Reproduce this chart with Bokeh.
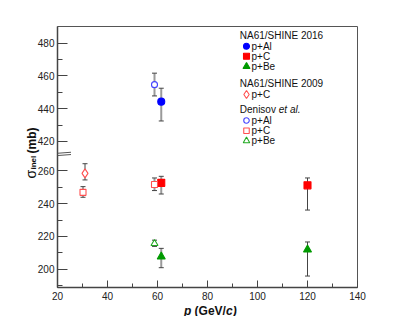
import numpy as np
from bokeh.plotting import figure
from bokeh.models import (ColumnDataSource, Whisker, TeeHead, FixedTicker,
                          Range1d, Label, Arrow)
from bokeh.embed import file_html
from bokeh.resources import INLINE

# ---------------- data ----------------
# NA61/SHINE 2016
P_2016_AL = [61.5]
S_2016_AL = [444.3]
LO_2016_AL = [432.5]
HI_2016_AL = [452.5]

P_2016_C = [61.5, 120.0]
S_2016_C = [252.7, 251.2]
LO_2016_C = [245.9, 236.1]
HI_2016_C = [256.7, 255.7]

P_2016_BE = [61.5, 120.0]
S_2016_BE = [207.6, 211.9]
LO_2016_BE = [200.9, 195.8]
HI_2016_BE = [212.7, 216.6]

# NA61/SHINE 2009
P_2009_C = [31.0]
S_2009_C = [258.5]
LO_2009_C = [254.5]
HI_2009_C = [264.4]

# Denisov et al.
P_DEN_AL = [58.8]
S_DEN_AL = [454.7]
LO_DEN_AL = [447.8]
HI_DEN_AL = [461.7]

P_DEN_C = [30.2, 58.8]
S_DEN_C = [246.9, 251.7]
LO_DEN_C = [243.9, 248.0]
HI_DEN_C = [250.4, 255.7]

P_DEN_BE = [58.8]
S_DEN_BE = [215.7]
LO_DEN_BE = [213.9]
HI_DEN_BE = [217.7]

X_TICKS = [20, 40, 60, 80, 100, 120, 140]
X_MINOR = [30, 50, 70, 90, 110, 130]
Y_TICKS = [200, 220, 240, 260, 420, 440, 460, 480]
Y_MINOR = [190, 210, 230, 250, 430, 450, 470]
X_RANGE = (20, 140)
Y_RANGE = (188.8, 490.2)

# broken y axis: values above BREAK_HIGH are shifted down onto BREAK_LOW
BREAK_LOW, BREAK_HIGH = 270, 412


def to_plot(v):
    v = np.asarray(v, dtype=float)
    return np.where(v > BREAK_LOW, v - (BREAK_HIGH - BREAK_LOW), v)


# ---------------- layout ----------------
W, H = 407, 316
BL, BR, BT, BB = 57, 50, 26, 29
FW = W - BL - BR
FH = H - BT - BB
FL_PAGE = BL          # frame left in picture px
FB_PAGE = BT + FH     # frame bottom in picture px


def lx(px):
    return px - FL_PAGE


def ly(py):
    return FB_PAGE - py


FONT = "Liberation Sans"

p = figure(width=W, height=H, output_backend="svg", toolbar_location=None,
           x_range=X_RANGE, y_range=(float(to_plot(Y_RANGE[0])), float(to_plot(Y_RANGE[1]))),
           min_border_left=BL, min_border_right=BR, min_border_top=BT,
           min_border_bottom=BB, title=None, background_fill_color="white",
           border_fill_color="white")
p.extra_x_ranges = {"lx": Range1d(0, FW)}
p.extra_y_ranges = {"ly": Range1d(0, FH)}

p.xgrid.visible = False
p.ygrid.visible = False
p.outline_line_color = "#555555"
p.outline_line_width = 1

for ax in (p.xaxis, p.yaxis):
    ax.axis_line_color = "#444444"
    ax.axis_line_width = 1.5
    ax.major_tick_line_color = "#444444"
    ax.minor_tick_line_color = "#444444"
    ax.major_tick_out = 0
    ax.minor_tick_out = 0
    ax.major_label_text_font = FONT
    ax.major_label_text_font_size = "10px"
    ax.major_label_text_color = "#222222"

p.xaxis.ticker = FixedTicker(ticks=X_TICKS, minor_ticks=X_MINOR)
p.xaxis.major_tick_in = 7
p.xaxis.minor_tick_in = 4
p.xaxis.major_label_standoff = 4

y_tick_pos = [float(v) for v in to_plot(Y_TICKS)]
y_minor_pos = [float(v) for v in to_plot(Y_MINOR)]
p.yaxis.ticker = FixedTicker(ticks=y_tick_pos, minor_ticks=y_minor_pos)
p.yaxis.major_label_overrides = {pos: str(v) for pos, v in zip(y_tick_pos, Y_TICKS)}
p.yaxis.major_tick_in = 10
p.yaxis.minor_tick_in = 5
p.yaxis.major_label_standoff = 3

# ---------------- series ----------------
BLUE, RED, GREEN = "#0000ff", "#ff0000", "#009a00"
OBLUE, ORED, OGREEN = "#4444ff", "#ff5050", "#22aa22"

series = [
    (P_2016_AL, S_2016_AL, LO_2016_AL, HI_2016_AL, "circle", 7, BLUE, BLUE),
    (P_2016_C, S_2016_C, LO_2016_C, HI_2016_C, "square", 7, RED, RED),
    (P_2016_BE, S_2016_BE, LO_2016_BE, HI_2016_BE, "triangle", 8, GREEN, GREEN),
    (P_2009_C, S_2009_C, LO_2009_C, HI_2009_C, "diamond", 9, ORED, "white"),
    (P_DEN_AL, S_DEN_AL, LO_DEN_AL, HI_DEN_AL, "circle", 6, OBLUE, "white"),
    (P_DEN_C, S_DEN_C, LO_DEN_C, HI_DEN_C, "square", 6, ORED, "white"),
    (P_DEN_BE, S_DEN_BE, LO_DEN_BE, HI_DEN_BE, "triangle", 7, OGREEN, "white"),
]

# error bars: those of the crowded 60 GeV/c group are drawn lighter and wider
light = dict(x=[], lo=[], hi=[])
dark = dict(x=[], lo=[], hi=[])
for px_, s_, lo_, hi_, *_ in series:
    for xv, lov, hiv in zip(px_, lo_, hi_):
        tgt = light if 50 < xv < 70 else dark
        tgt["x"].append(xv)
        tgt["lo"].append(float(to_plot(lov)))
        tgt["hi"].append(float(to_plot(hiv)))

for d, col, lw in ((light, "#9a9a9a", 2), (dark, "#444444", 1)):
    src = ColumnDataSource(d)
    p.add_layout(Whisker(source=src, base="x", lower="lo", upper="hi",
                         dimension="height", line_color=col, line_width=lw,
                         upper_head=TeeHead(size=5, line_color="#444444", line_width=1),
                         lower_head=TeeHead(size=5, line_color="#444444", line_width=1)))

for px_, s_, lo_, hi_, marker, size, lcol, fcol in series:
    src = ColumnDataSource(dict(x=px_, y=to_plot(s_)))
    p.scatter("x", "y", source=src, marker=marker, size=size,
              line_color=lcol, fill_color=fcol, line_width=1.1)

# ---------------- axis break mark ----------------
for y0 in (268.9, 270.3):
    p.add_layout(Arrow(start=None, end=None, x_start=-10.5, x_end=13.5,
                       y_start=y0, y_end=y0 + 1.1, x_range_name="lx",
                       line_color="#555555", line_width=1))


def pix_label(txt, px, py, place="center", **kw):
    """Text placed at picture-pixel position through the 'lx'/'ly' ranges.
    Texts outside the frame are put in a side panel so they are not clipped."""
    base = dict(text_font=FONT, text_color="#111111", text_align="left",
                text_baseline="middle")
    base.update(kw)
    lab = Label(x=lx(px), y=ly(py), x_range_name="lx", y_range_name="ly",
                text=txt, **base)
    p.add_layout(lab, place)


# ---------------- legend (picture-pixel layout) ----------------
TITLE_X, MARK_X, TEXT_X = 239.3, 246.0, 251.0
legend_titles = [("NA61/SHINE 2016", 35.0), ("NA61/SHINE 2009", 83.3)]
legend_rows = [
    ("p+Al", 45.7, "circle", 6, BLUE, BLUE),
    ("p+C", 55.7, "square", 6, RED, RED),
    ("p+Be", 66.0, "triangle", 7, GREEN, GREEN),
    ("p+C", 94.0, "diamond", 8, ORED, "white"),
    ("p+Al", 120.0, "circle", 5.5, OBLUE, "white"),
    ("p+C", 130.2, "square", 5.5, ORED, "white"),
    ("p+Be", 140.3, "triangle", 6.5, OGREEN, "white"),
]
LEG_FS = "10px"

for txt, py in legend_titles:
    pix_label(txt, TITLE_X, py, text_font_size=LEG_FS)
pix_label("Denisov", TITLE_X, 109.3, text_font_size=LEG_FS)
pix_label("et al.", TITLE_X + 39.0, 109.3, text_font_size=LEG_FS,
          text_font_style="italic")

for txt, py, marker, size, lcol, fcol in legend_rows:
    p.scatter(x=[lx(MARK_X)], y=[ly(py)], x_range_name="lx", y_range_name="ly",
              marker=marker, size=size, line_color=lcol, fill_color=fcol, line_width=1.1)
    pix_label(txt, TEXT_X, py, text_font_size=LEG_FS)

# ---------------- axis titles (outside the frame, held by side panels) ----------------
XT_Y = 310.5
xt_parts = [("p", 183.5, "bold italic", "right"),
            ("(GeV/", 194.1, "bold", "above"),
            ("c)", 225.6, "bold italic", "right")]
for txt, px, style, place in xt_parts:
    pix_label(txt, px, XT_Y, place=place, text_font_size="12px",
              text_font_style=style, text_baseline="alphabetic")

yt_parts = [("σ", 30.0, 178.0, "14px", "normal", "left"),
            ("inel", 33.2, 169.0, "8px", "bold", "right"),
            ("(mb)", 31.5, 153.0, "12px", "bold", "left")]
for txt, bx, sy, fs, style, place in yt_parts:
    pix_label(txt, bx, sy, place=place, angle=np.pi / 2, angle_units="rad",
              text_font_size=fs, text_font_style=style,
              text_baseline="alphabetic")

open("out.html", "w").write(file_html(p, INLINE))
